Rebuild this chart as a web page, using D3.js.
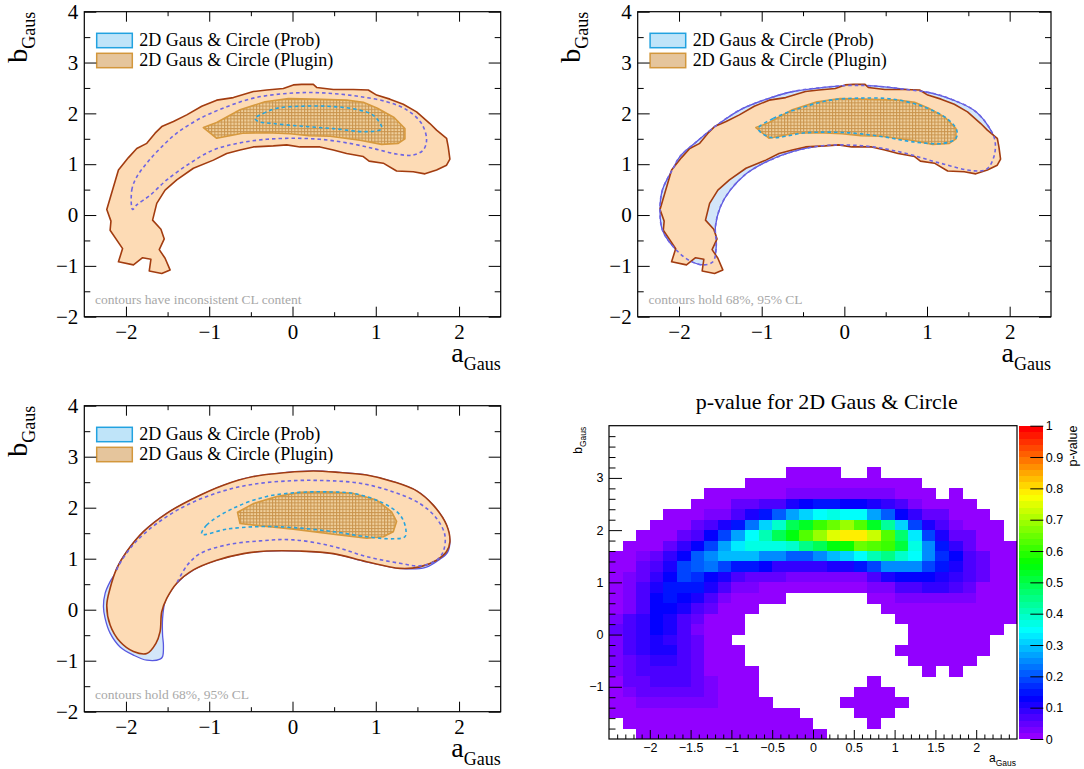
<!DOCTYPE html>
<html><head><meta charset="utf-8">
<script src="https://cdn.jsdelivr.net/npm/d3@7/dist/d3.min.js"></script>
<style>html,body{margin:0;padding:0;background:#fff}svg{display:block}</style>
</head><body>
<svg id="chart" width="1084" height="769"></svg>
<script>
// ================= DATA =================
const legendLabels = ["2D Gaus & Circle (Prob)", "2D Gaus & Circle (Plugin)"];
const notes = ["contours have inconsistent CL content", "contours hold 68%, 95% CL", "contours hold 68%, 95% CL"];
const contourXTicks = [-2, -1, 0, 1, 2];
const contourXMinor = [-1.5, -0.5, 0.5, 1.5];
const contourYTicks = [-2, -1, 0, 1, 2, 3, 4];
const contourYMinor = [-1.5, -0.5, 0.5, 1.5, 2.5, 3.5];

// Plugin contours (panels 1 and 2)
const plugin95 = [[-2.23,0.11],[-2.09,0.885],[-1.97,1.13],[-1.87,1.31],[-1.75,1.41],[-1.65,1.61],[-1.57,1.74],[-1.43,1.84],[-1.27,1.97],[-1.09,2.14],[-0.91,2.26],[-0.71,2.31],[-0.47,2.43],[-0.31,2.46],[-0.11,2.49],[0.01,2.56],[0.11,2.57],[0.25,2.57],[0.29,2.51],[0.49,2.47],[0.73,2.47],[0.91,2.46],[1.01,2.36],[1.17,2.28],[1.33,2.18],[1.49,2.03],[1.65,1.80],[1.73,1.67],[1.85,1.51],[1.87,1.34],[1.89,1.10],[1.85,0.98],[1.73,0.885],[1.59,0.81],[1.45,0.85],[1.25,0.866],[1.09,1.02],[0.92,1.06],[0.85,1.15],[0.65,1.21],[0.49,1.28],[0.33,1.34],[0.09,1.34],[-0.07,1.38],[-0.23,1.36],[-0.47,1.34],[-0.63,1.28],[-0.79,1.21],[-0.95,1.08],[-1.19,0.92],[-1.39,0.69],[-1.53,0.49],[-1.63,0.23],[-1.68,-0.10],[-1.58,-0.28],[-1.54,-0.47],[-1.60,-0.68],[-1.53,-0.85],[-1.47,-1.08],[-1.57,-1.15],[-1.72,-1.10],[-1.70,-0.87],[-1.80,-0.84],[-1.91,-0.98],[-2.09,-0.92],[-2.04,-0.66],[-2.19,-0.30],[-2.18,-0.12]];
const plugin68 = [[-1.07,1.72],[-0.91,1.82],[-0.63,2.07],[-0.33,2.23],[-0.05,2.29],[0.25,2.28],[0.65,2.26],[0.85,2.22],[1.02,2.10],[1.22,1.92],[1.35,1.70],[1.35,1.50],[1.27,1.41],[1.07,1.39],[0.81,1.47],[0.45,1.55],[0.20,1.56],[-0.03,1.60],[-0.31,1.62],[-0.60,1.61],[-0.91,1.51]];
// Prob contours, panel 1
const prob95P1 = [[-1.92,0.11],[-1.93,0.49],[-1.87,0.75],[-1.75,1.02],[-1.59,1.31],[-1.39,1.61],[-1.11,1.90],[-0.79,2.13],[-0.47,2.30],[-0.15,2.38],[0.17,2.41],[0.49,2.39],[0.81,2.33],[1.13,2.23],[1.37,2.07],[1.55,1.80],[1.61,1.48],[1.57,1.28],[1.45,1.18],[1.25,1.20],[0.97,1.31],[0.65,1.42],[0.33,1.49],[0.01,1.51],[-0.31,1.49],[-0.63,1.42],[-0.95,1.28],[-1.23,1.02],[-1.51,0.69],[-1.71,0.39],[-1.87,0.20]];
const prob68P1 = [[-0.45,1.90],[-0.35,2.0],[-0.19,2.10],[0.09,2.14],[0.41,2.14],[0.69,2.10],[0.93,2.0],[1.01,1.90],[1.07,1.70],[0.89,1.64],[0.49,1.70],[0.09,1.75],[-0.23,1.80],[-0.41,1.84]];
// Prob contours, panel 2
const prob95P2 = [[-2.07,0.92],[-2.20,0.50],[-2.23,0.10],[-2.20,-0.30],[-2.05,-0.66],[-1.87,-0.90],[-1.71,-0.98],[-1.59,-0.92],[-1.55,-0.62],[-1.56,-0.23],[-1.50,0.16],[-1.38,0.49],[-1.18,0.82],[-0.94,1.05],[-0.62,1.25],[-0.29,1.36],[-0.05,1.38],[0.35,1.34],[0.75,1.21],[1.16,1.02],[1.56,0.87],[1.72,0.90],[1.81,1.15],[1.82,1.48],[1.72,1.80],[1.56,2.07],[1.32,2.26],[1.08,2.39],[0.75,2.47],[0.35,2.54],[0.07,2.55],[-0.25,2.51],[-0.62,2.43],[-0.94,2.28],[-1.26,2.07],[-1.54,1.77],[-1.79,1.44],[-1.99,1.15]];
const prob68P2 = [[-1.04,1.70],[-0.86,1.90],[-0.54,2.10],[-0.17,2.26],[0.19,2.30],[0.59,2.28],[0.96,2.13],[1.24,1.90],[1.36,1.67],[1.35,1.51],[1.20,1.41],[0.83,1.44],[0.47,1.54],[0.03,1.62],[-0.46,1.62],[-0.90,1.53]];
// Panel 3 contours
const plugin95P3 = [[-2.11,0.81],[-1.99,1.14],[-1.79,1.53],[-1.51,1.89],[-1.19,2.18],[-0.83,2.44],[-0.47,2.61],[-0.07,2.69],[0.25,2.72],[0.57,2.69],[0.89,2.64],[1.21,2.51],[1.49,2.33],[1.69,2.05],[1.85,1.66],[1.89,1.33],[1.85,1.14],[1.73,0.97],[1.53,0.84],[1.29,0.81],[0.89,0.94],[0.49,1.10],[0.09,1.15],[-0.31,1.15],[-0.59,1.10],[-0.91,0.97],[-1.19,0.78],[-1.39,0.52],[-1.51,0.22],[-1.57,-0.04],[-1.59,-0.43],[-1.64,-0.66],[-1.75,-0.86],[-1.91,-0.82],[-2.07,-0.63],[-2.19,-0.30],[-2.23,0.09],[-2.19,0.42]];
const prob95FillP3 = [[-2.11,0.81],[-1.99,1.14],[-1.79,1.53],[-1.51,1.89],[-1.19,2.18],[-0.83,2.44],[-0.47,2.61],[-0.07,2.69],[0.25,2.72],[0.57,2.69],[0.89,2.64],[1.21,2.51],[1.49,2.33],[1.69,2.05],[1.85,1.66],[1.89,1.33],[1.86,1.12],[1.77,0.99],[1.60,0.83],[1.29,0.81],[0.89,0.94],[0.49,1.10],[0.09,1.15],[-0.31,1.15],[-0.59,1.10],[-0.91,0.97],[-1.19,0.78],[-1.39,0.52],[-1.49,0.29],[-1.53,0.16],[-1.56,-0.17],[-1.56,-0.50],[-1.55,-0.69],[-1.56,-0.92],[-1.59,-0.97],[-1.75,-0.99],[-1.91,-0.89],[-2.07,-0.73],[-2.19,-0.46],[-2.25,-0.17],[-2.27,0.06],[-2.25,0.32],[-2.19,0.55],[-2.13,0.71]];
const prob95LineP3 = [[-2.11,0.78],[-2.09,0.86],[-1.91,1.28],[-1.63,1.69],[-1.27,2.05],[-0.87,2.31],[-0.47,2.46],[0.01,2.53],[0.41,2.53],[0.81,2.48],[1.21,2.31],[1.53,2.08],[1.73,1.79],[1.83,1.46],[1.81,1.14],[1.73,0.97],[1.53,0.86],[1.29,0.91],[0.89,1.04],[0.49,1.24],[0.01,1.37],[-0.39,1.35],[-0.79,1.27],[-1.11,1.10],[-1.27,0.86],[-1.39,0.52]];
const prob68P3 = [[-1.09,1.48],[-1.03,1.66],[-0.71,1.99],[-0.31,2.22],[0.09,2.30],[0.41,2.31],[0.73,2.28],[1.05,2.12],[1.29,1.86],[1.36,1.59],[1.35,1.43],[1.21,1.39],[0.89,1.43],[0.49,1.53],[0.01,1.61],[-0.39,1.63],[-0.79,1.58]];
const plugin68P3 = [[-0.66,1.91],[-0.47,2.08],[-0.19,2.22],[0.09,2.30],[0.41,2.31],[0.73,2.28],[1.01,2.15],[1.19,1.92],[1.25,1.73],[1.21,1.53],[1.09,1.43],[0.89,1.40],[0.49,1.48],[0.01,1.58],[-0.31,1.63],[-0.63,1.69]];

// p-value histogram: 30 x-bins in [-2.5,2.5], 30 y-bins in [-2,4]; rows listed from top (b=4) to bottom (b=-2)
const pvalRows = [
[0,0,0,0,0,0,0,0,0,0,0,0,0,0,0,0,0,0,0,0,0,0,0,0,0,0,0,0,0,0],
[0,0,0,0,0,0,0,0,0,0,0,0,0,0,0,0,0,0,0,0,0,0,0,0,0,0,0,0,0,0],
[0,0,0,0,0,0,0,0,0,0,0,0,0,0,0,0,0,0,0,0,0,0,0,0,0,0,0,0,0,0],
[0,0,0,0,0,0,0,0,0,0,0,0,0,0,0,0,0,0,0,0,0,0,0,0,0,0,0,0,0,0],
[0,0,0,0,0,0,0,0,0,0,0,0,0,.01,.01,.01,.01,0,0,.01,0,0,0,0,0,0,0,0,0,0],
[0,0,0,0,0,0,0,0,0,0,.01,.01,.01,.01,.01,.01,.01,.01,.01,.01,.01,.01,.01,0,0,0,0,0,0,0],
[0,0,0,0,0,0,0,.01,.01,.01,.01,.01,.01,.03,.03,.03,.03,.03,.03,.03,.03,.01,.01,.01,0,.01,0,0,0,0],
[0,0,0,0,0,0,.01,.01,.01,.04,.05,.06,.07,.10,.12,.14,.14,.125,.125,.11,.08,.06,.03,.01,.01,.01,.01,0,0,0],
[0,0,0,0,.01,.01,.01,.03,.03,.07,.11,.14,.21,.26,.31,.34,.36,.34,.34,.27,.21,.12,.09,.04,.04,.01,.01,.01,0,0],
[0,0,0,.01,.01,.01,.04,.07,.11,.14,.22,.30,.39,.48,.53,.60,.65,.68,.62,.53,.43,.30,.19,.10,.06,.03,.01,.01,.01,0],
[0,0,.01,.01,.01,.04,.07,.12,.19,.26,.35,.40,.48,.54,.62,.69,.74,.79,.79,.72,.62,.46,.32,.18,.11,.04,.04,.01,.01,0],
[0,.01,.01,.01,.04,.08,.12,.18,.26,.32,.36,.36,.37,.39,.44,.48,.54,.58,.65,.63,.60,.50,.37,.25,.14,.09,.05,.01,.01,.01],
[.01,.01,.03,.05,.09,.13,.20,.25,.28,.29,.29,.25,.24,.21,.21,.24,.28,.31,.35,.40,.44,.39,.35,.25,.17,.12,.07,.04,.01,.01],
[.01,.01,.04,.07,.11,.18,.21,.22,.18,.15,.14,.12,.09,.09,.09,.09,.10,.10,.14,.18,.24,.25,.25,.18,.14,.11,.07,.04,.01,.01],
[.01,.03,.04,.09,.12,.18,.17,.13,.10,.07,.04,.04,.04,.02,.02,.03,.03,.03,.03,.06,.10,.12,.12,.12,.10,.09,.06,.04,.01,.01],
[.01,.03,.06,.10,.14,.15,.14,.11,.06,.03,.03,.01,.01,.01,.01,.01,.01,.01,.01,.03,.03,.06,.06,.09,.08,.07,.05,.01,.01,.01],
[.01,.02,.06,.12,.14,.13,.11,.07,.03,.01,.01,.01,.01,0,0,0,0,0,0,.01,.01,.02,.02,.02,.02,.02,.02,.01,.01,.01],
[.01,.03,.07,.12,.13,.10,.06,.04,.01,.01,.01,0,0,0,0,0,0,0,0,0,.01,.01,.01,.01,.01,.01,.01,.01,.01,.01],
[.03,.06,.09,.12,.10,.07,.04,.01,.01,.01,0,0,0,0,0,0,0,0,0,0,0,.01,.01,.01,.01,.01,.01,.01,.01,.01],
[.04,.07,.09,.12,.10,.07,.03,.01,.01,.01,0,0,0,0,0,0,0,0,0,0,0,0,.01,.01,.01,.01,.01,.01,.01,0],
[.03,.07,.08,.11,.09,.06,.04,.01,.01,0,0,0,0,0,0,0,0,0,0,0,0,0,.01,.01,.01,.01,.01,.01,0,0],
[.03,.06,.08,.10,.10,.07,.05,.01,.01,.01,0,0,0,0,0,0,0,0,0,0,0,.01,.01,.01,.01,.01,.01,.01,0,0],
[.03,.05,.06,.09,.09,.07,.04,.01,.01,.01,0,0,0,0,0,0,0,0,0,0,0,0,.01,.01,.01,.01,.01,0,0,0],
[.02,.05,.06,.07,.07,.06,.04,.01,.01,.01,.01,0,0,0,0,0,0,0,0,0,0,0,0,.01,0,.01,0,0,0,0],
[.01,.04,.05,.06,.06,.06,.05,.03,.01,.01,.01,0,0,0,0,0,0,0,0,.01,0,0,0,0,0,0,0,0,0,0],
[.01,.02,.04,.05,.05,.05,.04,.03,.01,.01,.01,0,0,0,0,0,0,0,.01,.01,.01,0,0,0,0,0,0,0,0,0],
[.01,.01,.02,.03,.03,.03,.03,.03,.01,.01,.01,.01,0,0,0,0,0,.01,.01,.01,.01,.01,0,0,0,0,0,0,0,0],
[.01,.01,.01,.01,.01,.01,.01,.01,.01,.01,.01,.01,.01,.01,0,0,0,0,.01,.01,.01,0,0,0,0,0,0,0,0,0],
[0,.01,.01,.01,.01,.01,.01,.01,.01,.01,.01,.01,.01,.01,.01,0,0,0,0,.01,0,0,0,0,0,0,0,0,0,0],
[0,0,.01,.01,.01,.01,.01,.01,.01,.01,.01,.01,.01,.01,.01,.01,0,0,0,0,0,0,0,0,0,0,0,0,0,0]
];
const heatTitle = "p-value for 2D Gaus & Circle";
const heatXTicks = [-2, -1.5, -1, -0.5, 0, 0.5, 1, 1.5, 2];
const heatYTicks = [-1, 0, 1, 2, 3];
const paletteTicks = [0, 0.1, 0.2, 0.3, 0.4, 0.5, 0.6, 0.7, 0.8, 0.9, 1];

// ================= DRAWING =================
const svg = d3.select("#chart");
const SERIF = "'Liberation Serif','Times New Roman',Times,serif";
const SANS = "'Liberation Sans',Arial,Helvetica,sans-serif";

const defs = svg.append("defs");
const pat = defs.append("pattern").attr("id", "hatch").attr("patternUnits", "userSpaceOnUse").attr("width", 3.2).attr("height", 3.2);
pat.append("rect").attr("width", 3.2).attr("height", 3.2).attr("fill", "#efcf9c");
pat.append("path").attr("d", "M0,0.5H3.2M0.5,0V3.2").attr("stroke", "#c9934c").attr("stroke-width", 1).attr("fill", "none");

const STY = {
  plugin95: { fill: "#fddbb5", stroke: "#a23c10", sw: 1.6 },
  plugin68: { fill: "url(#hatch)", stroke: "#d6993e", sw: 1.6 },
  probFill: { fill: "#d3e6f9", stroke: "#5858e0", sw: 1.3 },
  prob95:   { fill: "none", stroke: "#6d64e2", sw: 1.6, dash: "3.5,3" },
  prob68:   { fill: "none", stroke: "#27a4dd", sw: 1.6, dash: "3.5,3" }
};

function styleAxis(sel, font, size) {
  sel.select(".domain").remove();
  sel.selectAll("line").attr("stroke", "#000").attr("stroke-width", 1);
  sel.selectAll("text").attr("fill", "#000").attr("font-family", font).attr("font-size", size);
}

function contourPanel(f, layers, note) {
  const x = d3.scaleLinear().domain([-2.5, 2.5]).range([f.x0, f.x1]);
  const y = d3.scaleLinear().domain([-2, 4]).range([f.y1, f.y0]);
  const g = svg.append("g");
  g.append("rect").attr("x", f.x0).attr("y", f.y0).attr("width", f.x1 - f.x0).attr("height", f.y1 - f.y0).attr("fill", "#fff");

  layers.forEach(L => {
    const s = STY[L.s];
    const gen = d3.line().x(d => x(d[0])).y(d => y(d[1])).curve(L.curve);
    const p = g.append("path").attr("d", gen(L.pts))
      .attr("fill", L.noFill ? "none" : s.fill).attr("stroke", s.stroke)
      .attr("stroke-width", s.sw).attr("stroke-linejoin", "round");
    if (s.dash) p.attr("stroke-dasharray", s.dash);
  });

  // legend
  const boxes = [["#bfe4f9", "#22a2e0"], ["#e5c59c", "#d3973c"]];
  boxes.forEach((c, i) => {
    g.append("rect").attr("x", f.x0 + 12.4).attr("y", f.y0 + 21.6 + 20 * i)
      .attr("width", 35.6).attr("height", 14.4).attr("fill", c[0]).attr("stroke", c[1]).attr("stroke-width", 1.5);
    g.append("text").attr("x", f.x0 + 55).attr("y", f.y0 + 33.8 + 20 * i)
      .attr("font-family", SERIF).attr("font-size", 18).attr("fill", "#000").text(legendLabels[i]);
  });

  // note
  g.append("text").attr("x", f.x0 + 10.7).attr("y", f.y1 - 13)
    .attr("font-family", SERIF).attr("font-size", 13.5).attr("fill", "#a8a8a8").text(note);

  // axes
  const fmt = d3.format("d");
  g.append("g").attr("transform", `translate(0,${f.y1})`)
    .call(d3.axisBottom(x).tickValues(contourXTicks).tickSizeInner(-10).tickSizeOuter(0).tickPadding(7).tickFormat(fmt))
    .call(s => styleAxis(s, SERIF, 21));
  g.append("g").attr("transform", `translate(0,${f.y1})`)
    .call(d3.axisBottom(x).tickValues(contourXMinor).tickSizeInner(-4.5).tickSizeOuter(0).tickFormat(""))
    .call(s => styleAxis(s, SERIF, 21));
  g.append("g").attr("transform", `translate(0,${f.y0})`)
    .call(d3.axisTop(x).tickValues(contourXTicks).tickSizeInner(-10).tickSizeOuter(0).tickFormat(""))
    .call(s => styleAxis(s, SERIF, 21));
  g.append("g").attr("transform", `translate(0,${f.y0})`)
    .call(d3.axisTop(x).tickValues(contourXMinor).tickSizeInner(-4.5).tickSizeOuter(0).tickFormat(""))
    .call(s => styleAxis(s, SERIF, 21));
  g.append("g").attr("transform", `translate(${f.x0},0)`)
    .call(d3.axisLeft(y).tickValues(contourYTicks).tickSizeInner(-12).tickSizeOuter(0).tickPadding(6).tickFormat(fmt))
    .call(s => styleAxis(s, SERIF, 21));
  g.append("g").attr("transform", `translate(${f.x0},0)`)
    .call(d3.axisLeft(y).tickValues(contourYMinor).tickSizeInner(-6).tickSizeOuter(0).tickFormat(""))
    .call(s => styleAxis(s, SERIF, 21));
  g.append("g").attr("transform", `translate(${f.x1},0)`)
    .call(d3.axisRight(y).tickValues(contourYTicks).tickSizeInner(-12).tickSizeOuter(0).tickFormat(""))
    .call(s => styleAxis(s, SERIF, 21));
  g.append("g").attr("transform", `translate(${f.x1},0)`)
    .call(d3.axisRight(y).tickValues(contourYMinor).tickSizeInner(-6).tickSizeOuter(0).tickFormat(""))
    .call(s => styleAxis(s, SERIF, 21));

  g.append("rect").attr("x", f.x0).attr("y", f.y0).attr("width", f.x1 - f.x0).attr("height", f.y1 - f.y0)
    .attr("fill", "none").attr("stroke", "#000").attr("stroke-width", 1.2);

  // axis titles
  const xt = g.append("text").attr("x", f.x1).attr("y", f.y1 + 45).attr("text-anchor", "end")
    .attr("font-family", SERIF).attr("font-size", 28).attr("fill", "#000");
  xt.append("tspan").text("a");
  xt.append("tspan").attr("font-size", 18).attr("dy", 8).text("Gaus");
  const yt = g.append("text").attr("transform", `translate(${f.x0 - 57.6},${f.y0}) rotate(-90)`)
    .attr("text-anchor", "end").attr("font-family", SERIF).attr("font-size", 28).attr("fill", "#000");
  yt.append("tspan").text("b");
  yt.append("tspan").attr("font-size", 18).attr("dy", 8).text("Gaus");
}

const LC = d3.curveLinearClosed, SC = d3.curveCatmullRomClosed, SO = d3.curveCatmullRom;

contourPanel({ x0: 84.3, x1: 500.7, y0: 11.7, y1: 316.7 }, [
  { s: "plugin95", pts: plugin95, curve: LC },
  { s: "plugin68", pts: plugin68, curve: LC },
  { s: "prob95", pts: prob95P1, curve: SC },
  { s: "prob68", pts: prob68P1, curve: SC }
], notes[0]);

contourPanel({ x0: 637.7, x1: 1051, y0: 11.7, y1: 316.7 }, [
  { s: "probFill", pts: prob95P2, curve: SC },
  { s: "plugin95", pts: plugin95, curve: LC },
  { s: "plugin68", pts: plugin68, curve: LC },
  { s: "prob95", pts: prob95P2, curve: SC },
  { s: "prob68", pts: prob68P2, curve: SC }
], notes[1]);

contourPanel({ x0: 84.3, x1: 500.7, y0: 405.7, y1: 711.7 }, [
  { s: "probFill", pts: prob95FillP3, curve: SC },
  { s: "plugin95", pts: plugin95P3, curve: SC },
  { s: "plugin68", pts: plugin68P3, curve: LC },
  { s: "prob95", pts: prob95LineP3, curve: SO, noFill: true },
  { s: "prob68", pts: prob68P3, curve: SC }
], notes[2]);

// ---------- p-value heat map ----------
(function () {
  const F = { x0: 609, x1: 1017, y0: 425.7, y1: 739 };
  const nX = pvalRows[0].length, nY = pvalRows.length;
  const hx = d3.scaleLinear().domain([-2.5, 2.5]).range([F.x0, F.x1]);
  const hy = d3.scaleLinear().domain([-2, 4]).range([F.y1, F.y0]);
  const bx = d3.scaleLinear().domain([0, nX]).range([-2.5, 2.5]);
  const by = d3.scaleLinear().domain([0, nY]).range([4, -2]);
  const palette = d3.range(50).map(i => i === 49 ? "#ff0000" : d3.hsl(280 - (i + 1) * 5.6, 1, 0.5).formatHex());
  const colorOf = v => palette[Math.max(0, Math.min(49, Math.floor(v * 50)))];
  const cells = [];
  pvalRows.forEach((row, r) => row.forEach((v, c) => { if (v > 0) cells.push({ r, c, v }); }));
  const g = svg.append("g");
  g.append("g").attr("shape-rendering", "crispEdges").selectAll("rect").data(cells).join("rect")
    .attr("x", d => hx(bx(d.c))).attr("y", d => hy(by(d.r)))
    .attr("width", d => hx(bx(d.c + 1)) - hx(bx(d.c)) + 0.3)
    .attr("height", d => hy(by(d.r + 1)) - hy(by(d.r)) + 0.3)
    .attr("fill", d => colorOf(d.v));

  // axes
  const fmt = d3.format("");
  g.append("g").attr("transform", `translate(0,${F.y1})`)
    .call(d3.axisBottom(hx).tickValues(heatXTicks).tickSizeInner(-9).tickSizeOuter(0).tickPadding(4.2).tickFormat(fmt))
    .call(s => styleAxis(s, SANS, 12.5));
  const xMinor = d3.range(-24, 25).map(i => i / 10).filter(v => Math.abs(v * 2 - Math.round(v * 2)) > 1e-6);
  g.append("g").attr("transform", `translate(0,${F.y1})`)
    .call(d3.axisBottom(hx).tickValues(xMinor).tickSizeInner(-4.5).tickSizeOuter(0).tickFormat(""))
    .call(s => styleAxis(s, SANS, 12.5));
  g.append("g").attr("transform", `translate(${F.x0},0)`)
    .call(d3.axisLeft(hy).tickValues(heatYTicks).tickSizeInner(-13).tickSizeOuter(0).tickPadding(5.5).tickFormat(fmt))
    .call(s => styleAxis(s, SANS, 12.5));
  const yMinor = d3.range(-9, 20).map(i => i / 5).filter(v => Math.abs(v - Math.round(v)) > 1e-6);
  g.append("g").attr("transform", `translate(${F.x0},0)`)
    .call(d3.axisLeft(hy).tickValues(yMinor).tickSizeInner(-6.5).tickSizeOuter(0).tickFormat(""))
    .call(s => styleAxis(s, SANS, 12.5));
  g.append("rect").attr("x", F.x0).attr("y", F.y0).attr("width", F.x1 - F.x0).attr("height", F.y1 - F.y0)
    .attr("fill", "none").attr("stroke", "#000").attr("stroke-width", 1.2);

  // palette
  const P = { x0: 1018.7, x1: 1043.3 };
  const hp = d3.scaleLinear().domain([0, 1]).range([F.y1, F.y0]);
  g.append("g").attr("shape-rendering", "crispEdges").selectAll("rect").data(palette).join("rect")
    .attr("x", P.x0).attr("width", P.x1 - P.x0)
    .attr("y", (d, i) => hp((i + 1) / 50)).attr("height", (d, i) => hp(i / 50) - hp((i + 1) / 50) + 0.4)
    .attr("fill", d => d);
  g.append("g").attr("transform", `translate(${P.x1},0)`)
    .call(d3.axisRight(hp).tickValues(paletteTicks).tickSizeInner(-13).tickSizeOuter(0).tickPadding(2.5).tickFormat(d => String(d)))
    .call(s => styleAxis(s, SANS, 12.5));

  // titles
  g.append("text").attr("x", 826.7).attr("y", 409).attr("text-anchor", "middle")
    .attr("font-family", SERIF).attr("font-size", 22).attr("fill", "#000").text(heatTitle);
  const xt = g.append("text").attr("x", 1016).attr("y", 761.5).attr("text-anchor", "end")
    .attr("font-family", SANS).attr("font-size", 12).attr("fill", "#000");
  xt.append("tspan").text("a");
  xt.append("tspan").attr("font-size", 8.5).attr("dy", 4).text("Gaus");
  const yt = g.append("text").attr("transform", "translate(581.7,426.7) rotate(-90)").attr("text-anchor", "end")
    .attr("font-family", SANS).attr("font-size", 12).attr("fill", "#000");
  yt.append("tspan").text("b");
  yt.append("tspan").attr("font-size", 8.5).attr("dy", 4).text("Gaus");
  g.append("text").attr("transform", "translate(1076.7,425.5) rotate(-90)").attr("text-anchor", "end")
    .attr("font-family", SANS).attr("font-size", 12.5).attr("fill", "#000").text("p-value");
})();
</script>
</body></html>
